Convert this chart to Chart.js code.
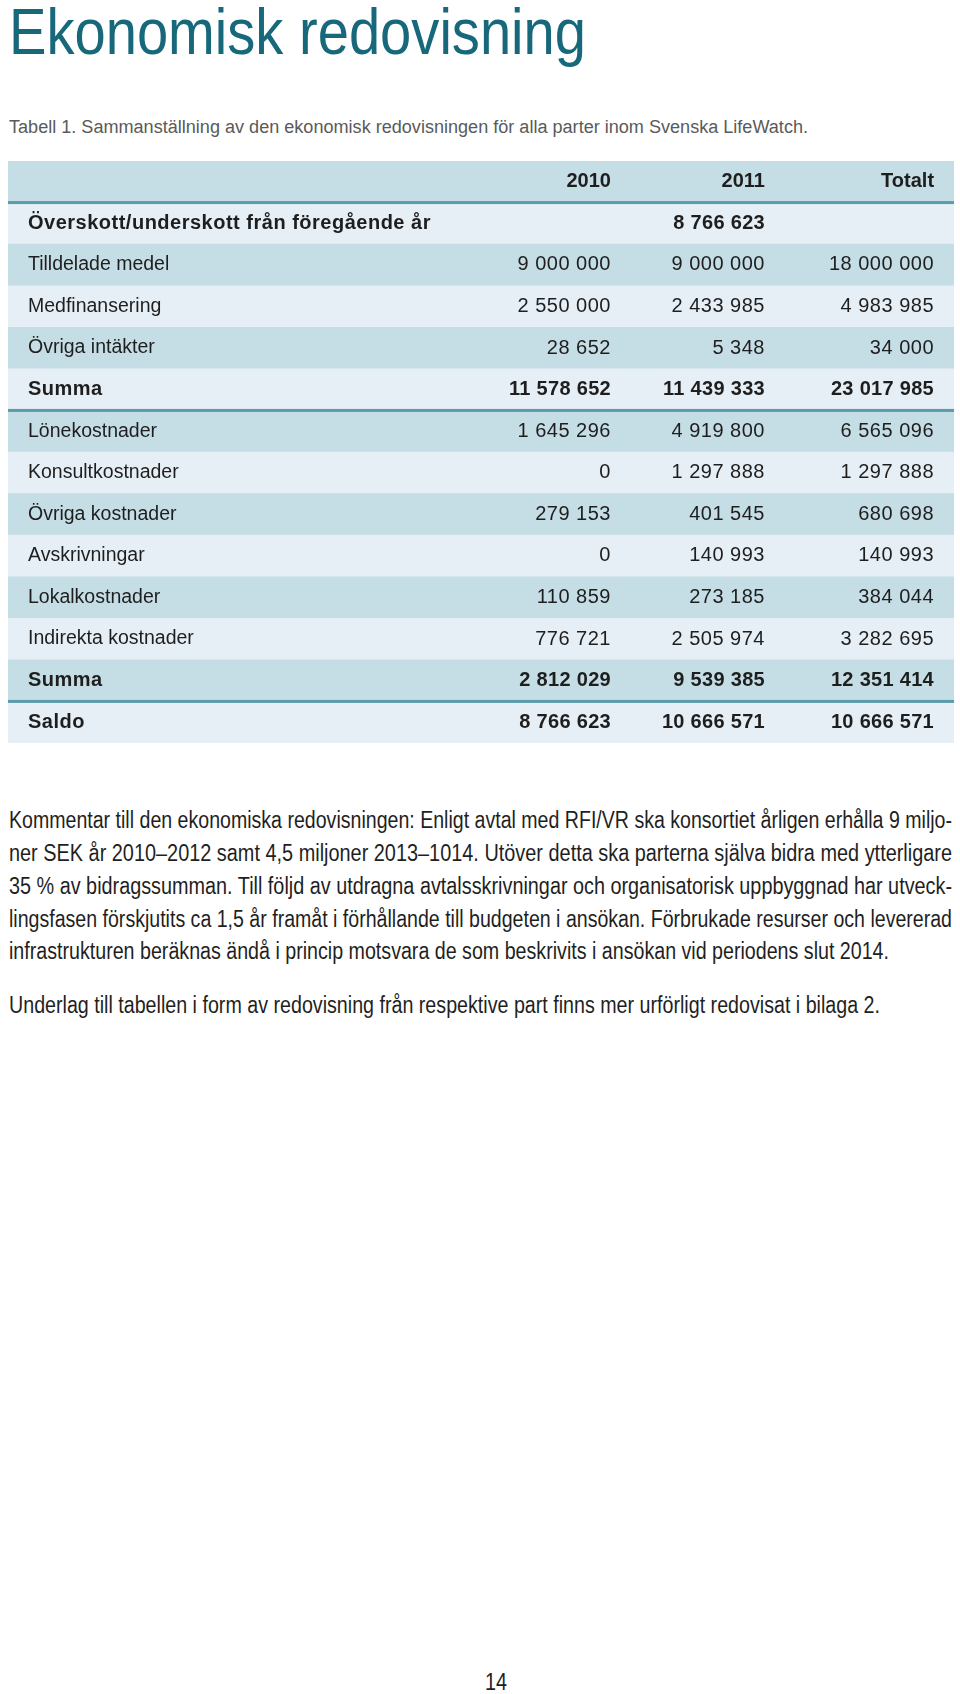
<!DOCTYPE html>
<html><head><meta charset="utf-8">
<script src="https://cdn.jsdelivr.net/npm/chart.js@4.4.1/dist/chart.umd.min.js"></script>
<style>
html,body{margin:0;padding:0;background:#fff;}
body{width:960px;height:1694px;position:relative;overflow:hidden;font-family:"Liberation Sans",Arial,sans-serif;}
.t{position:absolute;white-space:nowrap;line-height:1;transform-origin:0 0;color:#1f1f1f;}
#tableBox{position:absolute;left:8px;top:161px;width:946px;height:582px;}
</style></head><body>
<div class="t" data-left="9" data-w="577" data-base="54" data-size="65" style="color:#17687a">Ekonomisk redovisning</div>
<div class="t" data-left="9" data-w="799" data-base="133" data-size="18" style="color:#5a5a5a">Tabell 1. Sammanställning av den ekonomisk redovisningen för alla parter inom Svenska LifeWatch.</div>
<div id="tableBox"><canvas id="tbl"></canvas></div>
<div class="t" data-left="9" data-w="943" data-base="828" data-size="23">Kommentar till den ekonomiska redovisningen: Enligt avtal med RFI/VR ska konsortiet årligen erhålla 9 miljo-</div>
<div class="t" data-left="9" data-w="943" data-base="861" data-size="23">ner SEK år 2010–2012 samt 4,5 miljoner 2013–1014. Utöver detta ska parterna själva bidra med ytterligare</div>
<div class="t" data-left="9" data-w="943" data-base="894" data-size="23">35 % av bidragssumman. Till följd av utdragna avtalsskrivningar och organisatorisk uppbyggnad har utveck-</div>
<div class="t" data-left="9" data-w="943" data-base="927" data-size="23">lingsfasen förskjutits ca 1,5 år framåt i förhållande till budgeten i ansökan. Förbrukade resurser och levererad</div>
<div class="t" data-left="9" data-w="880" data-base="959" data-size="23">infrastrukturen beräknas ändå i princip motsvara de som beskrivits i ansökan vid periodens slut 2014.</div>
<div class="t" data-left="9" data-w="871" data-base="1013" data-size="23">Underlag till tabellen i form av redovisning från respektive part finns mer urförligt redovisat i bilaga 2.</div>
<div class="t" data-left="485" data-w="22" data-base="1690" data-size="24">14</div>
<script>
// ---- data ----
const rowLabels = ['', 'Överskott/underskott från föregående år', 'Tilldelade medel', 'Medfinansering', 'Övriga intäkter', 'Summa', 'Lönekostnader', 'Konsultkostnader', 'Övriga kostnader', 'Avskrivningar', 'Lokalkostnader', 'Indirekta kostnader', 'Summa', 'Saldo'];
const columnHeaders = ['2010', '2011', 'Totalt'];
const values2010 = [null, null, 9000000, 2550000, 28652, 11578652, 1645296, 0, 279153, 0, 110859, 776721, 2812029, 8766623];
const values2011 = [null, 8766623, 9000000, 2433985, 5348, 11439333, 4919800, 1297888, 401545, 140993, 273185, 2505974, 9539385, 10666571];
const valuesTotal = [null, null, 18000000, 4983985, 34000, 23017985, 6565096, 1297888, 680698, 140993, 384044, 3282695, 12351414, 10666571];
const boldLabels = ['Överskott/underskott från föregående år', 'Summa', 'Saldo'];

// ---- layout / style ----
document.querySelectorAll('.t').forEach(el => {
  const size = +el.dataset.size;
  el.style.fontSize = size + 'px';
  el.style.left = el.dataset.left + 'px';
  el.style.top = (+el.dataset.base - 0.8465 * size) + 'px';
  const w = el.getBoundingClientRect().width;
  el.style.transform = 'scaleX(' + (+el.dataset.w / w) + ')';
});

const FONT = '"Liberation Sans", Arial, sans-serif';
const LABEL_SIZE = 19.5;
const VALUE_SIZE = 20;
const DARK = '#c5dde5', LIGHT = '#e7eff6', RULE = '#5a9cac', TEXT = '#1e1e1e';
const COL_ANCHORS = [63.74, 80.02, 97.89];
const LABEL_PAD = 20;
const isBold = i => i === 0 || boldLabels.includes(rowLabels[i]);
const fmt = v => String(v).replace(/\B(?=(\d{3})+(?!\d))/g, ' ');

const tablePlugin = {
  id: 'tableText',
  afterDatasetsDraw(chart) {
    const { ctx, scales: { x, y }, chartArea } = chart;
    ctx.save();
    // teal rules under header and the sum rows
    ctx.fillStyle = RULE;
    rowLabels.forEach((lab, i) => {
      if (i === 0 || lab === 'Summa') {
        const yb = (y.getPixelForValue(i) + y.getPixelForValue(i + 1)) / 2;
        ctx.fillRect(chartArea.left, yb - 1.5, chartArea.right - chartArea.left, 3);
      }
    });
    ctx.textBaseline = 'middle';
    ctx.fillStyle = TEXT;
    // bold row labels (regular ones come from the y axis ticks)
    ctx.textAlign = 'left';
    ctx.font = 'bold ' + VALUE_SIZE + 'px ' + FONT;
    ctx.letterSpacing = '0.5px';
    rowLabels.forEach((lab, i) => {
      if (i > 0 && isBold(i)) ctx.fillText(lab, chartArea.left + LABEL_PAD, y.getPixelForValue(i));
    });
    // column headers and values
    ctx.textAlign = 'right';
    [values2010, values2011, valuesTotal].forEach((arr, c) => {
      const xp = x.getPixelForValue(COL_ANCHORS[c]);
      ctx.font = 'bold ' + VALUE_SIZE + 'px ' + FONT;
      ctx.letterSpacing = '0px';
      ctx.fillText(columnHeaders[c], xp, y.getPixelForValue(0));
      arr.forEach((v, i) => {
        if (v === null) return;
        const b = isBold(i);
        ctx.font = (b ? 'bold ' : '') + VALUE_SIZE + 'px ' + FONT;
        ctx.letterSpacing = b ? '0.3px' : '0.5px';
        ctx.fillText(fmt(v), xp, y.getPixelForValue(i));
      });
    });
    ctx.restore();
  }
};

new Chart(document.getElementById('tbl'), {
  type: 'bar',
  data: {
    labels: rowLabels,
    datasets: [{
      data: rowLabels.map(() => 100),
      backgroundColor: rowLabels.map((_, i) => i % 2 === 0 ? DARK : LIGHT),
      borderWidth: 0,
      barPercentage: 1,
      categoryPercentage: 1
    }]
  },
  options: {
    indexAxis: 'y',
    responsive: true,
    maintainAspectRatio: false,
    animation: false,
    events: [],
    layout: { padding: 0 },
    plugins: { legend: { display: false }, tooltip: { enabled: false } },
    scales: {
      x: { display: false, min: 0, max: 100 },
      y: {
        position: 'left',
        grid: { display: false, drawTicks: false },
        border: { display: false },
        afterFit: s => { s.width = 0; s.paddingTop = 0; s.paddingBottom = 0; s.paddingLeft = 0; s.paddingRight = 0; },
        ticks: {
          mirror: true,
          padding: LABEL_PAD,
          z: 1,
          autoSkip: false,
          color: TEXT,
          callback: (value, index) => isBold(index) ? '' : rowLabels[index],
          font: { family: FONT, size: LABEL_SIZE }
        }
      }
    }
  },
  plugins: [tablePlugin]
});
</script>
</body></html>
